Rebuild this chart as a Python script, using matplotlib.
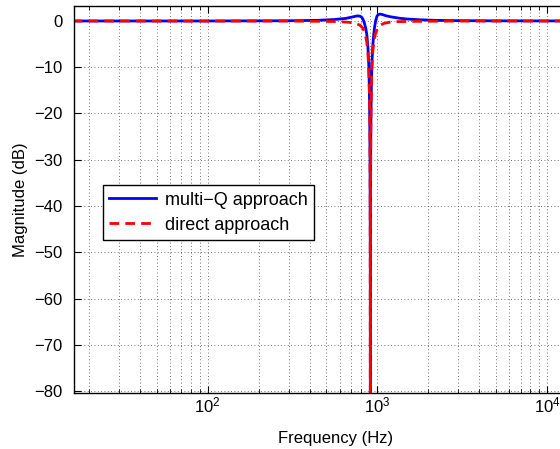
import numpy as np
import matplotlib
matplotlib.use('Agg')
import matplotlib.pyplot as plt
from matplotlib.ticker import LogLocator

plt.rcParams['font.family'] = ['Liberation Sans', 'DejaVu Sans']
plt.rcParams['mathtext.default'] = 'regular'

# multi-Q approach (blue)
freq_multi = [16, 100, 300, 450, 550, 650, 720, 760, 790, 810, 825, 840, 855, 868, 880, 890,
              897, 902, 906, 909, 910, 911, 914, 918, 923, 930, 940, 952, 965, 980, 995,
              1010, 1035, 1070, 1120, 1200, 1350, 1500, 1800, 2200, 3000, 5000, 20000]
mag_multi = [0, 0, 0.05, 0.15, 0.3, 0.55, 0.9, 1.1, 1.05, 0.8, 0.3, -0.5, -1.6, -3, -5.5, -9,
             -14, -20, -30, -50, -100, -50, -30, -20, -14, -9, -5.5, -3, -1.2, 0.2, 1.0,
             1.35, 1.5, 1.4, 1.15, 0.9, 0.6, 0.42, 0.25, 0.14, 0.07, 0.03, 0]

# direct approach (red dashed)
freq_direct = [16, 300, 500, 600, 680, 740, 790, 820, 845, 865, 880, 892, 900, 905, 908, 910,
               912, 915, 920, 928, 940, 956, 978, 1005, 1040, 1100, 1180, 1300, 1600, 3000, 20000]
mag_direct = [0, -0.02, -0.08, -0.15, -0.28, -0.5, -0.9, -1.5, -2.6, -4.3, -6.8, -11, -17, -25, -38, -100,
              -38, -25, -17, -11, -6.8, -4.3, -2.6, -1.5, -0.9, -0.5, -0.28, -0.15, -0.08, -0.02, 0]

yticks = [0, -10, -20, -30, -40, -50, -60, -70, -80]

fig = plt.figure(figsize=(5.6, 4.49), dpi=100)
ax = fig.add_axes([74 / 560, 56 / 449, 524 / 560, 387 / 449])

ax.semilogx(freq_multi, mag_multi, color=(0, 0, 1), linewidth=2, label='multi\u2212Q approach')
ax.semilogx(freq_direct, mag_direct, color=(1, 0, 0), linewidth=2, linestyle=(0, (3.5, 2.2)),
            label='direct approach')

ax.set_xlim(16.3, 20000)
ax.set_ylim(-80.43, 3.24)
ax.set_yticks(yticks)
ax.xaxis.set_major_locator(LogLocator(base=10, numticks=10))
ax.xaxis.set_minor_locator(LogLocator(base=10, subs=np.arange(2, 10), numticks=20))

ax.grid(True, which='major', linestyle=(0, (1, 3)), color='#444444', linewidth=0.6)
ax.grid(True, which='minor', axis='x', linestyle=(0, (1, 3)), color='#444444', linewidth=0.6)

ax.tick_params(which='both', direction='in', top=True, right=True, labelsize=12)
ax.tick_params(which='major', length=5)
ax.tick_params(which='minor', length=3)
ax.tick_params(axis='y', pad=8)
ax.tick_params(axis='x', pad=2)
for s in ax.spines.values():
    s.set_linewidth(1.0)

ax.set_xlabel('Frequency (Hz)', fontsize=12, labelpad=11)
ax.set_ylabel('Magnitude (dB)', fontsize=12, labelpad=5)

leg = ax.legend(loc='upper left', bbox_to_anchor=(0.055, 0.537), fontsize=13,
                fancybox=False, framealpha=1, edgecolor='black', handlelength=2.6,
                borderpad=0.35, labelspacing=0.45, handletextpad=0.5, borderaxespad=0)
leg.get_frame().set_linewidth(1.0)

fig.savefig('out.png', dpi=100)
